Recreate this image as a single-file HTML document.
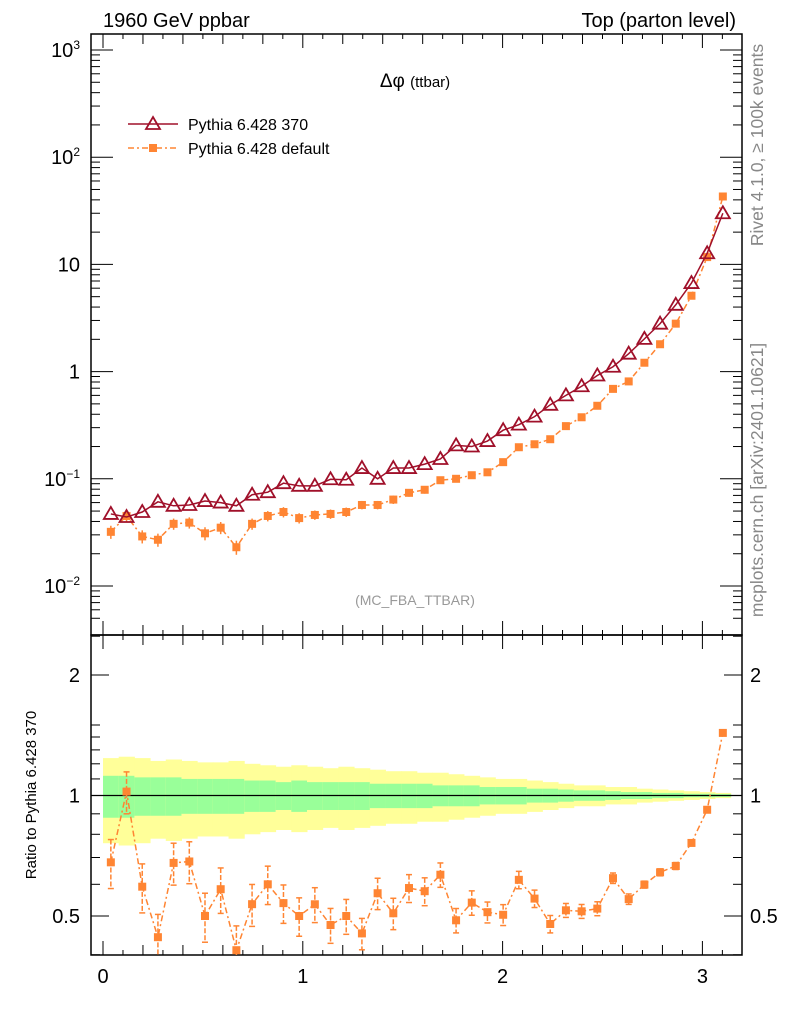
<!DOCTYPE html>
<html><head><meta charset="utf-8"><style>
body{margin:0;background:#fff}
svg{display:block;font-family:"Liberation Sans",sans-serif}
</style></head><body>
<svg id="c" width="786" height="1024" viewBox="0 0 786 1024" xmlns="http://www.w3.org/2000/svg">
<text x="103" y="27" font-size="20">1960 GeV ppbar</text>
<text x="736" y="27" font-size="20" text-anchor="end">Top (parton level)</text>
<text x="415" y="87" font-size="19" text-anchor="middle">Δφ <tspan font-size="15">(ttbar)</tspan></text>
<text x="415" y="605" font-size="14" fill="#999" text-anchor="middle">(MC_FBA_TTBAR)</text>
<text transform="translate(763,145) rotate(-90)" font-size="17.5" fill="#888" text-anchor="middle">Rivet 4.1.0, ≥ 100k events</text>
<text transform="translate(763,480) rotate(-90)" font-size="17.5" fill="#888" text-anchor="middle">mcplots.cern.ch [arXiv:2401.10621]</text>
<text transform="translate(36,795) rotate(-90)" font-size="15" text-anchor="middle">Ratio to Pythia 6.428 370</text>
<g>
<g>
<line x1="128" y1="124" x2="178" y2="124" stroke="#a0102a" stroke-width="1.5"/>
<polygon points="153,117 160,129 146,129" fill="none" stroke="#a0102a" stroke-width="1.8"/>
<text x="188" y="130" font-size="16">Pythia 6.428 370</text></g>
<g>
<line x1="128" y1="148" x2="178" y2="148" stroke="#ff8533" stroke-width="1.5" stroke-dasharray="6,3,2,3"/>
<rect x="149" y="144" width="8" height="8" fill="#ff8533"/>
<text x="188" y="154" font-size="16">Pythia 6.428 default</text></g>
</g>
<g id="plot"></g>
</svg>
<script>
const nbins = [40];
const v370 = [0.047,0.044,0.049,0.061,0.056,0.057,0.062,0.060,0.056,0.071,0.075,0.091,0.086,0.086,0.099,0.098,0.126,0.100,0.126,0.126,0.137,0.153,0.205,0.200,0.225,0.284,0.32,0.38,0.49,0.60,0.73,0.92,1.11,1.47,2.02,2.8,4.2,6.7,12.7,30];
const vDef = [0.032,0.045,0.029,0.027,0.038,0.039,0.031,0.035,0.023,0.038,0.045,0.049,0.043,0.046,0.047,0.049,0.057,0.057,0.064,0.074,0.079,0.097,0.100,0.108,0.115,0.143,0.197,0.21,0.234,0.31,0.375,0.48,0.69,0.81,1.21,1.8,2.8,5.1,11.7,43];
const errDef = [0.14,0.12,0.14,0.14,0.12,0.12,0.14,0.13,0.15,0.12,0.11,0.11,0.11,0.10,0.10,0.10,0.09,0.09,0.09,0.08,0.08,0.07,0.07,0.07,0.06,0.06,0.05,0.05,0.05,0.04,0.04,0.04,0.03,0.03,0.02,0.02,0.02,0.015,0.01,0.01];
const bandY = [0.24,0.25,0.24,0.22,0.23,0.22,0.21,0.21,0.22,0.20,0.19,0.18,0.19,0.18,0.17,0.18,0.17,0.16,0.15,0.15,0.14,0.14,0.13,0.12,0.11,0.10,0.10,0.09,0.08,0.07,0.06,0.06,0.05,0.05,0.04,0.035,0.03,0.025,0.02,0.015];
const bandG = [0.12,0.12,0.11,0.11,0.11,0.10,0.10,0.10,0.10,0.09,0.09,0.08,0.09,0.08,0.08,0.08,0.08,0.07,0.07,0.07,0.07,0.06,0.06,0.06,0.05,0.05,0.05,0.04,0.04,0.035,0.03,0.03,0.025,0.02,0.02,0.015,0.015,0.01,0.01,0.008];
const xTicks = [0,1,2,3];
const yDecades = [-2,-1,0,1,2,3];
const yLabels = ["10<tspan dy='-8' font-size='12'>−2</tspan>","10<tspan dy='-8' font-size='12'>−1</tspan>","1","10","10<tspan dy='-8' font-size='12'>2</tspan>","10<tspan dy='-8' font-size='12'>3</tspan>"];
const rTicks = [0.5,1,2];
const rLabels = ["0.5","1","2"];

const NS="http://www.w3.org/2000/svg";
const g=document.getElementById('plot');
const L=91,R=742,T=34,M=635,B=955;
const X=v=>103+199.8*v;
const Y=v=>371.6-107.2*Math.log10(v);
const RY=v=>795.5-120.5*Math.log2(v);
function el(t,a,p){const e=document.createElementNS(NS,t);for(const k in a)e.setAttribute(k,a[k]);(p||g).appendChild(e);return e;}
const n=nbins[0],w=Math.PI/n;
const cx=i=>X((i+0.5)*w);

for(let i=0;i<n;i++){
  const x0=X(i*w),x1=X((i+1)*w);
  const b=el('rect',{x:x0,y:RY(1+bandY[i]),width:x1-x0+0.5,height:RY(1-bandY[i])-RY(1+bandY[i]),fill:'#ffff99'});
  
  
  const c=el('rect',{x:x0,y:RY(1+bandG[i]),width:x1-x0+0.5,height:RY(1-bandG[i])-RY(1+bandG[i]),fill:'#99ff99'});
  
  
}
el('line',{x1:L,x2:R,y1:RY(1),y2:RY(1),stroke:'#000','stroke-width':1.2});

for(const [y0,y1] of [[T,M],[M,B]]){
  el('rect',{x:L,y:y0,width:R-L,height:y1-y0,fill:'none',stroke:'#000','stroke-width':1.5});
}
for(let k=0;k<=32;k++){
  const v=k*0.1;const x=X(v);if(x>R)break;
  for(const [y0,d] of [[T,1],[M,-1],[M,1],[B,-1]]){
    el('line',{x1:x,x2:x,y1:y0,y2:y0+d*(k%10===0?14:(k%2===0?10:5)),stroke:'#000','stroke-width':1});
  }
}
for(const t of xTicks){
  const tx=el('text',{x:X(t),y:983,'font-size':20,'text-anchor':'middle'});tx.textContent=t;
  
  
}
for(const d of yDecades){
  for(let m=1;m<10;m++){
    const y=Y(m*Math.pow(10,d));if(y<T||y>M)continue;
    const len=m===1?22:9;
    el('line',{x1:L,x2:L+len,y1:y,y2:y,stroke:'#000'});
    el('line',{x1:R,x2:R-len,y1:y,y2:y,stroke:'#000'});
  }
}
for(let d=-3;d<-2;d++){for(let m=5;m<10;m++){const y=Y(m*Math.pow(10,d));if(y<M&&y>T){el('line',{x1:L,x2:L+9,y1:y,y2:y,stroke:'#000'});el('line',{x1:R,x2:R-9,y1:y,y2:y,stroke:'#000'});}}}
yDecades.forEach((d,i)=>{
  const t=el('text',{x:80,y:Y(Math.pow(10,d))+7,'font-size':20,'text-anchor':'end'});t.innerHTML=yLabels[i];
  
  
});
for(let v=0.4;v<=2.55;v+=0.1){
  const r=Math.round(v*10)/10;
  if(r>1.4&&Math.round(r*10)%5!==0)continue;
  const y=RY(r);if(y<M||y>B)continue;
  const major=rTicks.includes(r);
  el('line',{x1:L,x2:L+(major?18:9),y1:y,y2:y,stroke:'#000'});
  el('line',{x1:R,x2:R-(major?18:9),y1:y,y2:y,stroke:'#000'});
}
rTicks.forEach((r,i)=>{
  for(const [x,a] of [[80,'end'],[750,'start']]){
    const t=el('text',{x:x,y:RY(r)+7,'font-size':20,'text-anchor':a});t.textContent=rLabels[i];
    
    
  }
});

const ORG='#ff8533',RED='#a0102a';
el('polyline',{points:vDef.map((v,i)=>cx(i)+','+Y(v)).join(' '),fill:'none',stroke:ORG,'stroke-width':1.5,'stroke-dasharray':'6,3,2,3'});
vDef.forEach((v,i)=>{
  const x=cx(i);
  el('line',{x1:x,x2:x,y1:Y(v*(1+errDef[i])),y2:Y(v*(1-errDef[i])),stroke:ORG,'stroke-width':1.5});
  const p=el('rect',{x:x-4,y:Y(v)-4,width:8,height:8,fill:ORG});
  
  
});
el('polyline',{points:v370.map((v,i)=>cx(i)+','+Y(v)).join(' '),fill:'none',stroke:RED,'stroke-width':1.5});
v370.forEach((v,i)=>{
  const x=cx(i),y=Y(v);
  const p=el('polygon',{points:`${x},${y-7} ${x+7},${y+5} ${x-7},${y+5}`,fill:'none',stroke:RED,'stroke-width':1.8});
  
  
});
const ratio=vDef.map((v,i)=>v/v370[i]);
const cp=el('clipPath',{id:'rc'});el('rect',{x:L,y:M,width:R-L,height:B-M},cp);
const rg=el('g',{'clip-path':'url(#rc)'});
el('polyline',{points:ratio.map((r,i)=>cx(i)+','+RY(r)).join(' '),fill:'none',stroke:ORG,'stroke-width':1.5,'stroke-dasharray':'6,3,2,3'},rg);
ratio.forEach((r,i)=>{
  const x=cx(i),e=r*errDef[i];
  el('line',{x1:x,x2:x,y1:RY(r+e),y2:RY(Math.max(r-e,0.01)),stroke:ORG,'stroke-width':1.5,'stroke-dasharray':'5,2'},rg);
  el('line',{x1:x-3,x2:x+3,y1:RY(r+e),y2:RY(r+e),stroke:ORG,'stroke-width':1.5},rg);
  el('line',{x1:x-3,x2:x+3,y1:RY(r-e),y2:RY(r-e),stroke:ORG,'stroke-width':1.5},rg);
  const p=el('rect',{x:x-4,y:RY(r)-4,width:8,height:8,fill:ORG},rg);
  
  
});
</script>
</body></html>
